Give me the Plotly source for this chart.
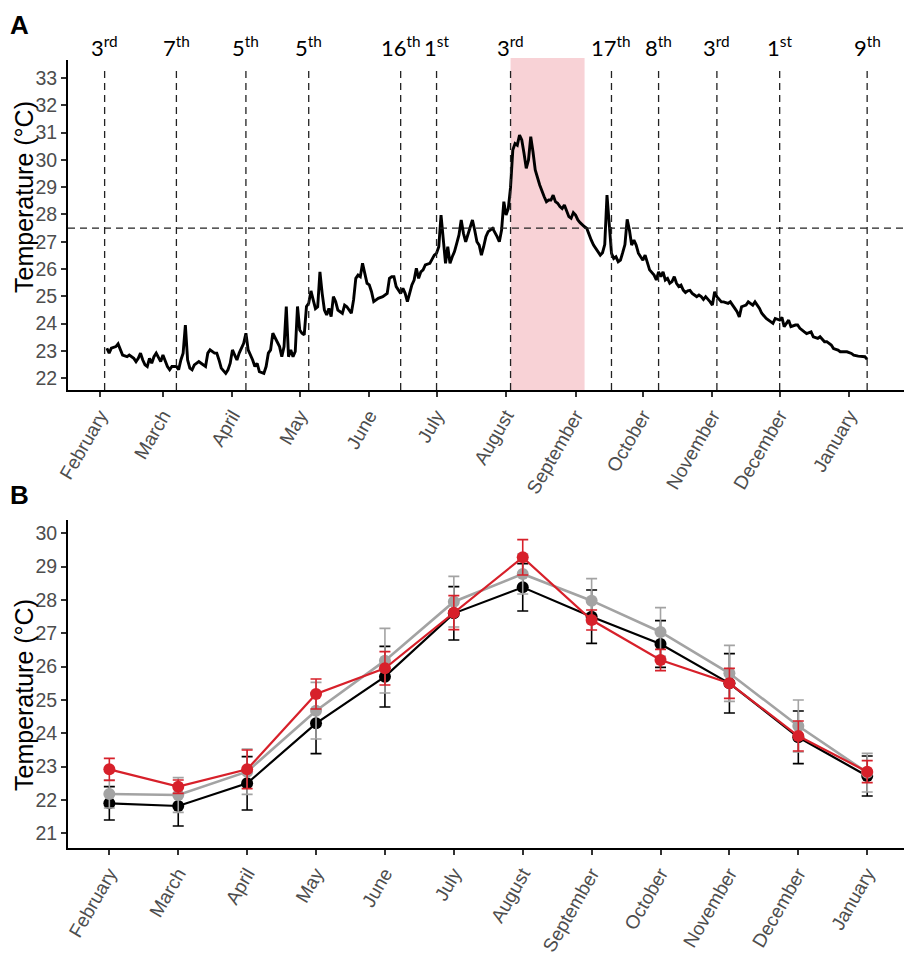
import pandas as pd
import plotly.graph_objects as go

# ---- panel A: daily temperature (days counted from 1 February 2018) ----
START = pd.Timestamp("2018-02-01")

sst_day = [
    3, 4, 5, 7, 8, 9, 10, 12, 13, 15, 16, 17, 18, 19, 20, 21, 22, 23, 24, 25,
    26, 27, 28, 29, 30, 31, 32, 34, 35, 36, 37, 38, 39, 40, 41, 42, 44, 45, 47, 48,
    49, 51, 52, 53, 54, 56, 57, 58, 59, 60, 61, 62, 64, 65, 66, 68, 69, 70, 71, 73,
    74, 75, 76, 77, 78, 80, 81, 82, 83, 84, 85, 86, 87, 88, 89, 90, 91, 92, 93, 94,
    95, 96, 97, 98, 99, 100, 101, 102, 103, 104, 105, 106, 108, 109, 110, 112, 113, 114, 115, 116,
    117, 118, 119, 120, 121, 122, 123, 124, 126, 127, 128, 129, 130, 131, 132, 134, 135, 136, 137, 138,
    139, 140, 141, 142, 143, 144, 145, 147, 148, 149, 150, 151, 152, 153, 154, 155, 156, 157, 158, 159,
    160, 161, 162, 163, 164, 165, 166, 167, 168, 169, 170, 171, 172, 173, 174, 175, 177, 178, 179, 180,
    181, 182, 183, 184, 185, 186, 187, 188, 189, 190, 191, 192, 193, 194, 196, 197, 198, 199, 200, 201,
    202, 203, 204, 205, 206, 207, 208, 209, 210, 211, 212, 213, 214, 215, 216, 217, 218, 219, 220, 221,
    222, 223, 224, 225, 226, 227, 228, 229, 230, 231, 232, 233, 234, 235, 236, 237, 238, 239, 240, 241,
    242, 243, 244, 245, 247, 248, 249, 250, 251, 252, 253, 254, 255, 256, 257, 258, 259, 260, 261, 262,
    263, 264, 265, 266, 267, 268, 269, 270, 272, 273, 274, 275, 277, 278, 280, 281, 283, 284, 285, 286,
    288, 289, 291, 292, 294, 295, 297, 298, 300, 301, 303, 304, 305, 306, 307, 308, 310, 311, 312, 314,
    315, 317, 318, 320, 321, 323, 324, 326, 327, 329, 330, 332, 333, 335, 336, 338, 339, 341, 342,
]
sst_temp = [
    23.10, 22.92, 23.10, 23.16, 23.26, 23.04, 22.85, 22.79, 22.85, 22.73, 22.61, 22.73, 22.92, 22.67, 22.49, 22.43, 22.73, 22.55, 22.79, 22.92,
    22.79, 22.61, 22.85, 22.61, 22.43, 22.31, 22.43, 22.43, 22.31, 22.67, 22.92, 23.95, 22.67, 22.37, 22.31, 22.49, 22.61, 22.55, 22.43, 22.92,
    23.04, 22.92, 22.92, 22.67, 22.37, 22.18, 22.31, 22.55, 23.04, 22.85, 22.67, 22.92, 23.28, 23.65, 23.04, 22.67, 22.43, 22.55, 22.24, 22.18,
    22.43, 22.92, 23.04, 23.65, 23.47, 23.16, 22.79, 23.16, 24.63, 22.79, 23.04, 22.79, 22.98, 24.63, 23.77, 23.65, 23.59, 24.63, 24.75, 25.20,
    24.87, 24.55, 24.62, 25.90, 25.11, 24.50, 24.32, 24.56, 24.26, 24.99, 24.81, 24.50, 24.38, 24.68, 24.62, 24.38, 24.87, 25.66, 25.78, 25.72,
    26.21, 25.78, 25.48, 25.42, 25.17, 24.81, 24.87, 24.93, 24.99, 25.05, 25.11, 25.66, 25.72, 25.72, 25.36, 25.11, 25.29, 25.11, 24.81, 25.11,
    25.42, 25.60, 26.03, 25.66, 25.90, 25.97, 26.15, 26.21, 26.39, 26.51, 26.58, 26.82, 27.98, 27.06, 26.21, 26.82, 26.21, 26.45, 26.64, 26.94,
    27.25, 27.80, 27.31, 27.00, 27.25, 27.55, 27.80, 27.43, 27.00, 26.88, 26.51, 26.82, 27.19, 27.37, 27.43, 27.49, 27.19, 27.00, 27.43, 28.47,
    27.98, 28.22, 29.00, 30.36, 30.60, 30.54, 30.91, 30.73, 30.24, 29.69, 30.00, 30.85, 30.30, 29.63, 29.08, 28.83, 28.65, 28.47, 28.53, 28.53,
    28.71, 28.47, 28.41, 28.29, 28.22, 28.35, 28.16, 27.92, 27.86, 28.07, 27.98, 27.80, 27.70, 27.61, 27.55, 27.49, 27.25, 27.06, 26.88, 26.76,
    26.64, 26.51, 26.60, 26.90, 28.71, 27.43, 26.58, 26.39, 26.45, 26.27, 26.33, 26.60, 26.90, 27.82, 27.43, 26.88, 27.06, 26.88, 26.58, 26.45,
    26.33, 26.51, 26.21, 25.97, 25.78, 25.60, 25.90, 25.72, 25.90, 25.60, 25.66, 25.48, 25.54, 25.72, 25.48, 25.36, 25.41, 25.23, 25.14, 25.20,
    25.22, 25.11, 25.05, 24.99, 25.05, 24.99, 24.89, 24.99, 24.80, 24.68, 25.17, 24.99, 24.80, 24.80, 24.74, 24.80, 24.56, 24.44, 24.25, 24.62,
    24.68, 24.80, 24.68, 24.80, 24.56, 24.38, 24.19, 24.13, 24.01, 24.19, 24.13, 24.23, 23.89, 24.01, 24.13, 23.89, 23.95, 23.95, 23.83, 23.70,
    23.64, 23.70, 23.52, 23.46, 23.52, 23.34, 23.34, 23.22, 23.09, 23.03, 22.97, 22.97, 22.97, 22.91, 22.85, 22.81, 22.81, 22.79, 22.70,
]

event_dates = ["2018-02-03", "2018-03-07", "2018-04-07", "2018-05-05", "2018-06-15", "2018-07-01",
               "2018-08-03", "2018-09-17", "2018-10-08", "2018-11-03", "2018-12-01", "2019-01-09"]
event_labels = ["3<sup>rd</sup>", "7<sup>th</sup>", "5<sup>th</sup>", "5<sup>th</sup>", "16<sup>th</sup>", "1<sup>st</sup>",
                "3<sup>rd</sup>", "17<sup>th</sup>", "8<sup>th</sup>", "3<sup>rd</sup>", "1<sup>st</sup>", "9<sup>th</sup>"]
heat_window = ["2018-08-03", "2018-09-05"]
THRESHOLD = 27.5

months = ["February", "March", "April", "May", "June", "July", "August",
          "September", "October", "November", "December", "January"]

# ---- panel B: monthly means +/- sd for three groups ----
black_mean = [21.90, 21.82, 22.50, 24.30, 25.70, 27.60, 28.38, 27.50, 26.68, 25.50, 23.88, 22.72]
black_sd   = [0.50, 0.60, 0.80, 0.91, 0.91, 0.80, 0.71, 0.80, 0.70, 0.89, 0.79, 0.60]
grey_mean  = [22.18, 22.15, 22.85, 24.68, 26.18, 27.95, 28.78, 27.98, 27.04, 25.80, 24.22, 22.82]
grey_sd    = [0.42, 0.52, 0.68, 0.85, 0.97, 0.76, 0.60, 0.66, 0.73, 0.84, 0.78, 0.58]
red_mean   = [22.92, 22.40, 22.92, 25.18, 25.95, 27.62, 29.28, 27.40, 26.20, 25.50, 23.92, 22.85]
red_sd     = [0.33, 0.20, 0.58, 0.45, 0.50, 0.51, 0.53, 0.30, 0.32, 0.45, 0.45, 0.33]

RED = "#d7202a"
GREY = "#a3a3a3"
TICK_FONT = dict(family="Liberation Sans, Arial", size=19.5, color="#4d4d4d")
XTICK_FONT = dict(TICK_FONT, size=19)
TITLE_FONT = dict(family="Liberation Sans, Arial", size=25, color="black")

# the page body keeps an 8px margin, so the figure is 8px smaller than the window
PAD = 8
W, H = 912 - PAD, 956 - PAD


def px_x(x):
    return (x - PAD) / W


def px_y(y):
    return 1 - (y - PAD) / H


X_DOM = [px_x(68), 1]
A_DOM = [px_y(390), px_y(60)]
B_DOM = [px_y(848), px_y(520)]

dates = [START + pd.Timedelta(days=d) for d in sst_day]
month_ticks = pd.date_range(START, periods=12, freq="MS")

fig = go.Figure()

fig.add_trace(go.Scatter(
    x=dates, y=sst_temp, mode="lines",
    line=dict(color="black", width=2.9), showlegend=False,
    xaxis="x", yaxis="y",
))

for name, mean, sd, col, lw in [("black", black_mean, black_sd, "black", 2.2),
                                 ("grey", grey_mean, grey_sd, GREY, 2.6),
                                 ("red", red_mean, red_sd, RED, 2.2)]:
    fig.add_trace(go.Scatter(
        x=months, y=mean, mode="lines+markers", name=name,
        line=dict(color=col, width=lw),
        marker=dict(color=col, size=12),
        error_y=dict(type="data", array=sd, visible=True,
                     color=col, thickness=1.6, width=5.5),
        showlegend=False, xaxis="x2", yaxis="y2",
    ))

shapes = [
    dict(type="rect", xref="x", yref="y domain", x0=heat_window[0], x1=heat_window[1],
         y0=0, y1=1.006, fillcolor="#f7cdd1", opacity=0.9, line_width=0, layer="below"),
    dict(type="line", xref="x domain", yref="y", x0=0, x1=1, y0=THRESHOLD, y1=THRESHOLD,
         line=dict(color="#222", width=1.3, dash="7px,5px")),
]
annotations = []
for d, lab in zip(event_dates, event_labels):
    shapes.append(dict(type="line", xref="x", yref="y domain", x0=d, x1=d, y0=0, y1=0.973,
                       line=dict(color="#222", width=1.3, dash="7px,5px")))
    annotations.append(dict(x=d, xref="x", y=1, yref="y domain", yanchor="bottom",
                            text=lab, showarrow=False, yshift=-3,
                            font=dict(family="Lato, Noto Sans", size=22, color="black")))

annotations += [
    dict(x=0, y=1.0, xref="paper", yref="paper", xanchor="left", yanchor="top",
         text="<b>A</b>", showarrow=False,
         font=dict(family="Liberation Sans, Arial", size=26, color="black")),
    dict(x=0, y=px_y(478), xref="paper", yref="paper", xanchor="left", yanchor="top",
         text="<b>B</b>", showarrow=False,
         font=dict(family="Liberation Sans, Arial", size=26, color="black")),
    dict(x=0, y=px_y(197), xref="paper", yref="paper", xanchor="left", yanchor="middle",
         text="Temperature (°C)", textangle=-90, showarrow=False, font=TITLE_FONT),
    dict(x=0, y=px_y(695), xref="paper", yref="paper", xanchor="left", yanchor="middle",
         text="Temperature (°C)", textangle=-90, showarrow=False, font=TITLE_FONT),
]

axis_common = dict(showline=True, linecolor="black", linewidth=2, ticks="outside",
                   ticklen=5, tickwidth=1.5, tickcolor="#333", showgrid=False,
                   zeroline=False, tickfont=TICK_FONT, automargin=False)

fig.update_layout(
    width=W, height=H, margin=dict(l=0, r=0, t=0, b=0),
    plot_bgcolor="white", paper_bgcolor="white",
    shapes=shapes, annotations=annotations,
    xaxis=dict(axis_common, domain=X_DOM, anchor="y", type="date",
               range=["2018-01-17 16:00", "2019-01-29"], tickfont=XTICK_FONT,
               tickvals=list(month_ticks), ticktext=months, tickangle=-60),
    yaxis=dict(axis_common, domain=A_DOM, anchor="x", range=[21.57, 33.66],
               tickvals=list(range(22, 34))),
    xaxis2=dict(axis_common, domain=X_DOM, anchor="y2", type="category",
                range=[-0.6, 11.65], tickangle=-60, tickfont=XTICK_FONT),
    yaxis2=dict(axis_common, domain=B_DOM, anchor="x2", range=[20.56, 30.4],
                tickvals=list(range(21, 31))),
)

fig.write_html("out.html")
